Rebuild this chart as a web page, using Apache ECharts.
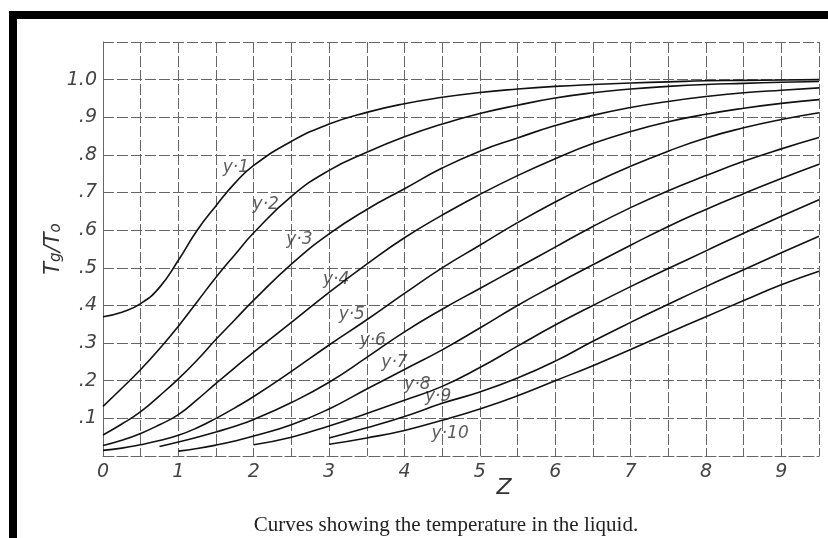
<!DOCTYPE html>
<html>
<head>
<meta charset="utf-8">
<title>Curves showing the temperature in the liquid</title>
<script src="https://cdn.jsdelivr.net/npm/echarts@6/dist/echarts.min.js"></script>
<style>
  html, body { margin: 0; padding: 0; background: #fff; }
  #chart { width: 828px; height: 538px; }
</style>
</head>
<body>
<div id="chart"></div>
<script>
// Z values shared by every curve (finer near the start where y1 bends)
const zValues = [0, 0.25, 0.5, 0.75, 1, 1.25, 1.5, 1.75, 2, 2.5, 3, 3.5, 4, 4.5, 5, 5.5, 6, 6.5, 7, 7.5, 8, 8.5, 9, 9.5];

// Tg/To read off the plate, null where a curve has not started yet
const y1 = [0.37, 0.382, 0.405, 0.448, 0.52, 0.6, 0.665, 0.725, 0.772, 0.836, 0.882, 0.913, 0.936, 0.953, 0.966, 0.975, 0.982, 0.987, 0.991, 0.994, 0.997, 0.998, 0.999, 1.0];
const y2 = [0.132, 0.18, 0.23, 0.285, 0.345, 0.41, 0.475, 0.535, 0.593, 0.69, 0.759, 0.807, 0.848, 0.882, 0.91, 0.932, 0.951, 0.965, 0.975, 0.982, 0.987, 0.99, 0.993, 0.995];
const y3 = [0.056, 0.085, 0.118, 0.16, 0.205, 0.255, 0.31, 0.362, 0.414, 0.51, 0.59, 0.655, 0.71, 0.765, 0.81, 0.845, 0.878, 0.905, 0.926, 0.942, 0.955, 0.965, 0.972, 0.978];
const y4 = [0.028, 0.042, 0.06, 0.083, 0.11, 0.15, 0.193, 0.235, 0.276, 0.355, 0.435, 0.51, 0.58, 0.64, 0.695, 0.745, 0.79, 0.83, 0.862, 0.888, 0.908, 0.924, 0.937, 0.947];
const y5 = [0.015, 0.021, 0.03, 0.041, 0.055, 0.075, 0.1, 0.128, 0.158, 0.225, 0.295, 0.362, 0.432, 0.5, 0.56, 0.62, 0.675, 0.725, 0.77, 0.81, 0.845, 0.872, 0.894, 0.912];
const y6 = [null, null, null, 0.025, 0.037, 0.05, 0.064, 0.079, 0.097, 0.142, 0.196, 0.262, 0.33, 0.39, 0.445, 0.5, 0.555, 0.61, 0.66, 0.705, 0.745, 0.783, 0.816, 0.846];
const y7 = [null, null, null, null, 0.013, 0.02, 0.029, 0.04, 0.053, 0.083, 0.125, 0.178, 0.23, 0.282, 0.34, 0.4, 0.455, 0.508, 0.56, 0.61, 0.655, 0.697, 0.737, 0.775];
const y8 = [null, null, null, null, null, null, null, null, 0.03, 0.05, 0.08, 0.113, 0.148, 0.185, 0.235, 0.292, 0.348, 0.4, 0.45, 0.498, 0.545, 0.592, 0.637, 0.681];
const y9 = [null, null, null, null, null, null, null, null, null, null, 0.048, 0.075, 0.105, 0.14, 0.17, 0.207, 0.252, 0.305, 0.355, 0.403, 0.45, 0.495, 0.54, 0.584];
const y10 = [null, null, null, null, null, null, null, null, null, null, 0.031, 0.048, 0.068, 0.095, 0.125, 0.16, 0.2, 0.24, 0.283, 0.327, 0.37, 0.413, 0.455, 0.491];

const curveNames = ['y·1', 'y·2', 'y·3', 'y·4', 'y·5', 'y·6', 'y·7', 'y·8', 'y·9', 'y·10'];
const xTickLabels = ['0', '1', '2', '3', '4', '5', '6', '7', '8', '9'];
const yTickLabels = ['.1', '.2', '.3', '.4', '.5', '.6', '.7', '.8', '.9', '1.0'];

// where each curve name sits: index into zValues + pixel offset
const labelAt = [7, 8, 9, 10, 11, 11, 12, 12, 13, 13];
const labelOffset = [[1, -16], [12, -28], [8, -24], [7, -13], [-15, -5], [6, -17], [-10, -7], [13, -16], [-4, -7], [8, 13]];

const curves = [y1, y2, y3, y4, y5, y6, y7, y8, y9, y10];
const handFont = 'DejaVu Sans';
const gridLine = { color: '#666', width: 1, type: [11, 3] };

const series = curves.map((vals, k) => ({
  name: curveNames[k],
  type: 'line',
  smooth: 0.5,
  showSymbol: false,
  silent: true,
  lineStyle: { color: '#111', width: 1.6 },
  data: zValues.map((z, i) => [z, vals[i]]).filter(p => p[1] !== null)
}));

// curve names written on the plate
series.push({
  type: 'scatter',
  symbolSize: 1,
  silent: true,
  itemStyle: { color: 'rgba(0,0,0,0)' },
  label: {
    show: true,
    position: 'inside',
    formatter: p => p.name,
    color: '#333',
    fontFamily: handFont,
    fontStyle: 'italic',
    fontSize: 17
  },
  data: curves.map((vals, k) => ({
    name: curveNames[k],
    value: [zValues[labelAt[k]], vals[labelAt[k]]],
    label: { offset: labelOffset[k] }
  }))
});

let myChart = echarts.init(document.getElementById('chart'));
myChart.setOption({
  animation: false,
  grid: { left: 103, right: 9, top: 42, bottom: 82 },
  xAxis: {
    type: 'value',
    min: 0,
    max: 9.5,
    interval: 0.5,
    name: 'Z',
    nameLocation: 'middle',
    nameGap: 21,
    nameMoveOverlap: false,
    nameTextStyle: { fontFamily: handFont, fontStyle: 'italic', fontSize: 22, color: '#333', padding: [0, 0, 0, 86] },
    axisLine: { lineStyle: gridLine },
    axisTick: { show: false },
    axisLabel: {
      margin: 7,
      fontFamily: handFont,
      fontStyle: 'italic',
      fontSize: 19,
      color: '#444',
      formatter: v => (Math.abs(v - Math.round(v)) < 1e-6 && v < 9.5) ? xTickLabels[Math.round(v)] : ''
    },
    splitLine: { show: true, lineStyle: gridLine }
  },
  yAxis: {
    type: 'value',
    min: 0,
    max: 1.1,
    interval: 0.1,
    name: '{t|T}{s|g}{t|/T}{s|o}',
    nameLocation: 'middle',
    nameRotate: 90,
    nameGap: 39,
    nameMoveOverlap: false,
    nameTextStyle: {
      color: '#333',
      rich: {
        t: { fontFamily: handFont, fontStyle: 'italic', fontSize: 21, color: '#333' },
        s: { fontFamily: handFont, fontStyle: 'italic', fontSize: 15, color: '#333', padding: [6, 0, 0, 0] }
      }
    },
    axisLine: { show: true, lineStyle: gridLine },
    axisTick: { show: false },
    axisLabel: {
      margin: 6,
      fontFamily: handFont,
      fontStyle: 'italic',
      fontSize: 19,
      color: '#444',
      formatter: v => {
        const n = Math.round(v * 10);
        return (n >= 1 && n <= 10) ? yTickLabels[n - 1] : '';
      }
    },
    splitLine: { show: true, lineStyle: gridLine }
  },
  graphic: [
    { type: 'rect', shape: { x: 9, y: 11, width: 819, height: 8 }, style: { fill: '#000' } },
    { type: 'rect', shape: { x: 9, y: 11, width: 8, height: 527 }, style: { fill: '#000' } },
    {
      type: 'text',
      x: 446,
      y: 525,
      style: {
        text: 'Curves showing the temperature in the liquid.',
        fill: '#222',
        font: '21px "Liberation Serif"',
        textAlign: 'center',
        textVerticalAlign: 'middle'
      }
    }
  ],
  series: series
});
window.onresize = function () {
  myChart.resize();
};
</script>
</body>
</html>
